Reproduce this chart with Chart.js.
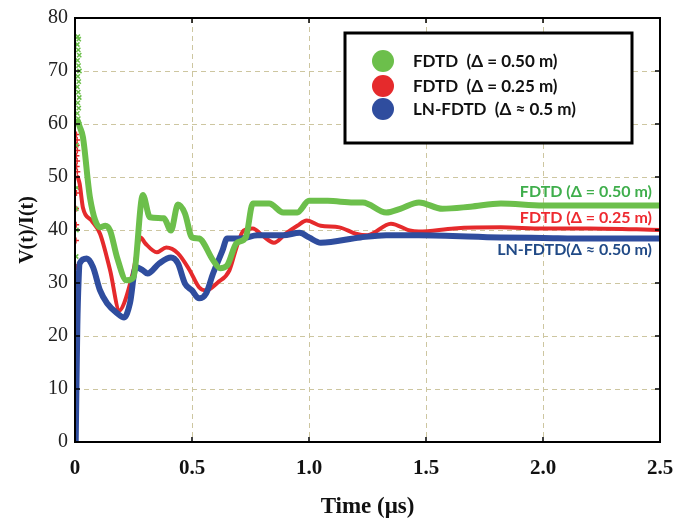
<!DOCTYPE html>
<html>
<head>
<meta charset="utf-8">
<script src="https://cdn.jsdelivr.net/npm/chart.js@4"></script>
<style>
  html, body { margin: 0; padding: 0; background: #fff; }
  #wrap { width: 674px; height: 521px; }
</style>
</head>
<body>
<div id="wrap"><canvas id="c" width="674" height="521"></canvas></div>
<script>
// time axis in microseconds, values are V(t)/I(t)
const xTicks = [0, 0.5, 1.0, 1.5, 2.0, 2.5]
const yTicks = [0, 10, 20, 30, 40, 50, 60, 70, 80]

const timeG = [0.012, 0.02, 0.034, 0.064, 0.107, 0.13, 0.15, 0.18, 0.22, 0.25, 0.29, 0.32, 0.38, 0.41, 0.44, 0.47, 0.50, 0.53, 0.59, 0.62, 0.65, 0.69, 0.73, 0.76, 0.83, 0.89, 0.95, 1.0, 1.08, 1.19, 1.23, 1.33, 1.39, 1.47, 1.57, 1.69, 1.82, 2.0, 2.2, 2.5]
const fdtd050 = [60.5, 59.5, 57.5, 46.1, 40.5, 40.8, 39.9, 34.8, 30.5, 31.1, 46.6, 42.4, 42.2, 39.9, 44.8, 43.1, 38.6, 38.4, 34.3, 32.8, 33.3, 37.5, 38.6, 45, 45, 43.3, 43.3, 45.5, 45.5, 45.2, 45.2, 43.3, 44, 45.2, 44, 44.4, 45, 44.6, 44.6, 44.6]

const timeR = [0.012, 0.02, 0.034, 0.07, 0.107, 0.15, 0.19, 0.21, 0.25, 0.28, 0.30, 0.35, 0.39, 0.44, 0.49, 0.53, 0.56, 0.61, 0.66, 0.69, 0.72, 0.76, 0.80, 0.85, 0.90, 0.95, 0.99, 1.05, 1.13, 1.2, 1.25, 1.35, 1.43, 1.47, 1.62, 1.82, 2.0, 2.2, 2.5]
const fdtd025 = [50, 48.7, 44.2, 41.8, 39.3, 32.4, 24.8, 26.2, 32.4, 38.6, 37.5, 35.8, 36.7, 35.6, 32.4, 29.2, 28.6, 30.1, 32.4, 36.7, 39.9, 40.3, 39, 37.6, 39.3, 40.8, 41.8, 40.8, 40.5, 39.3, 39, 41.2, 39.9, 39.7, 40.3, 40.5, 40.3, 40.3, 40]

const timeB = [0.003, 0.006, 0.01, 0.015, 0.02, 0.05, 0.077, 0.107, 0.137, 0.18, 0.21, 0.235, 0.26, 0.29, 0.31, 0.36, 0.41, 0.44, 0.47, 0.50, 0.53, 0.56, 0.59, 0.63, 0.65, 0.71, 0.78, 0.83, 0.89, 0.96, 1.0, 1.05, 1.22, 1.33, 1.47, 1.82, 2.0, 2.2, 2.5]
const lnfdtd = [0, 10, 22, 30, 33.7, 34.6, 33, 28.6, 26.2, 24.3, 23.5, 26.2, 33, 32.4, 31.8, 33.7, 34.8, 33.7, 29.9, 28.6, 27.1, 28, 31.8, 36.1, 38.4, 38.4, 39, 39, 39, 39.5, 38.6, 37.6, 38.6, 39, 39, 38.6, 38.5, 38.4, 38.4]

// scattered start-up markers hugging the vertical axis
const spikeGt = [0.012, 0.016, 0.01, 0.014, 0.018, 0.011, 0.015, 0.019, 0.012, 0.016, 0.01, 0.014, 0.018, 0.012, 0.016, 0.01, 0.014, 0.018, 0.006, 0.008, 0.005, 0.006, 0.005]
const spikeGv = [76.5, 76, 75, 74, 73, 72, 71, 70, 69, 68, 67, 66, 65, 64, 63, 62, 61, 60, 56, 48, 44, 40, 35]
const spikeRt = [0.006, 0.009, 0.007, 0.01, 0.006, 0.009, 0.007, 0.01, 0.006, 0.004, 0.005, 0.004, 0.005]
const spikeRv = [58, 57, 56, 55, 54, 53, 52, 51, 47, 44, 41, 38, 33]

const legendLabels = ['FDTD  (\u0394 = 0.50 m)', 'FDTD  (\u0394 = 0.25 m)', 'LN-FDTD  (\u0394 \u2248 0.5 m)']
const curveLabels = ['FDTD (\u0394 = 0.50 m)', 'FDTD (\u0394 = 0.25 m)', 'LN-FDTD(\u0394 \u2248 0.50 m)']

const GREEN = '#6cbf4b'
const RED = '#e52a2c'
const BLUE = '#2f4d9e'
const LABEL_COLORS = ['#3fae4c', '#ee2a30', '#214a86']
const GRID = '#cdc6a0'

const pts = (xs, ys) => xs.map((x, i) => ({ x, y: ys[i] }))

function line(data, color, width) {
  return {
    data, showLine: true, borderColor: color, backgroundColor: color, borderWidth: width,
    pointRadius: 0, fill: false, cubicInterpolationMode: 'monotone',
    borderJoinStyle: 'round', borderCapStyle: 'round',
  }
}

// frame, inward ticks, boxed legend and the labels next to the curves
const decorations = {
  id: 'decorations',
  afterDraw(chart) {
    const { ctx, chartArea: a, scales: { x, y } } = chart
    ctx.save()
    ctx.strokeStyle = '#000'
    ctx.lineWidth = 1.5
    xTicks.forEach(v => {
      const px = x.getPixelForValue(v)
      ctx.beginPath()
      ctx.moveTo(px, a.bottom); ctx.lineTo(px, a.bottom - 5)
      ctx.moveTo(px, a.top); ctx.lineTo(px, a.top + 5)
      ctx.stroke()
    })
    yTicks.forEach(v => {
      const py = y.getPixelForValue(v)
      ctx.beginPath()
      ctx.moveTo(a.left, py); ctx.lineTo(a.left + 5, py)
      ctx.moveTo(a.right, py); ctx.lineTo(a.right - 5, py)
      ctx.stroke()
    })
    ctx.lineWidth = 2
    ctx.strokeRect(a.left, a.top, a.right - a.left, a.bottom - a.top)

    // legend box
    ctx.fillStyle = '#fff'
    ctx.fillRect(345, 33, 287, 110)
    ctx.lineWidth = 3
    ctx.strokeRect(345, 33, 287, 110)
    const cols = [GREEN, RED, BLUE]
    const rows = [61, 86, 109]
    ctx.font = 'bold 17px Lato, "Liberation Sans", sans-serif'
    ctx.textBaseline = 'middle'
    ctx.textAlign = 'left'
    rows.forEach((ry, i) => {
      ctx.fillStyle = cols[i]
      ctx.beginPath()
      ctx.arc(383, ry, 11, 0, Math.PI * 2)
      ctx.fill()
      ctx.fillStyle = '#111'
      ctx.fillText(legendLabels[i], 413, ry + 1)
    })

    // curve labels
    ctx.font = 'bold 16px Lato, "Liberation Sans", sans-serif'
    ctx.textAlign = 'right'
    const ly = [192, 218, 250]
    curveLabels.forEach((t, i) => {
      ctx.fillStyle = LABEL_COLORS[i]
      ctx.fillText(t, 652, ly[i])
    })
    ctx.restore()
  },
}

new Chart(document.getElementById('c'), {
  type: 'scatter',
  data: {
    datasets: [
      line(pts(timeG, fdtd050), GREEN, 6),
      line(pts(timeB, lnfdtd), BLUE, 6),
      line(pts(timeR, fdtd025), RED, 4),
      { data: pts(spikeGt, spikeGv), showLine: false, pointStyle: 'crossRot', pointRadius: 3, borderWidth: 1.5, borderColor: GREEN },
      { data: pts(spikeRt, spikeRv), showLine: false, pointStyle: 'cross', pointRadius: 3, borderWidth: 1.5, borderColor: RED },
    ],
  },
  options: {
    responsive: false,
    animation: false,
    layout: { padding: { left: 0, right: 14, top: 18, bottom: 0 } },
    plugins: { legend: { display: false }, tooltip: { enabled: false } },
    scales: {
      x: {
        type: 'linear', min: 0, max: 2.5,
        afterBuildTicks: s => { s.ticks = xTicks.map(v => ({ value: v })) },
        afterFit: s => { s.height = 79; s.paddingLeft = 0; s.paddingRight = 0 },
        grid: { color: GRID, lineWidth: 1, drawTicks: false },
        border: { display: false, dash: [5, 4] },
        ticks: {
          padding: 14, color: '#111', maxRotation: 0,
          font: { family: '"Liberation Serif", "Times New Roman", serif', size: 21, weight: 'bold' },
          callback: v => v === 0 ? '0' : v.toFixed(1),
        },
        title: {
          display: true, text: 'Time (\u03bcs)', color: '#111',
          font: { family: '"Liberation Serif", "Times New Roman", serif', size: 23, weight: 'bold' },
          padding: { top: 0, bottom: 0 },
        },
      },
      y: {
        min: 0, max: 80,
        afterBuildTicks: s => { s.ticks = yTicks.map(v => ({ value: v })) },
        afterFit: s => { s.width = 75; s.paddingTop = 0; s.paddingBottom = 0 },
        grid: { color: GRID, lineWidth: 1, drawTicks: false },
        border: { display: false, dash: [5, 4] },
        ticks: {
          padding: 7, color: '#222',
          font: { family: '"Liberation Serif", "Times New Roman", serif', size: 20 },
        },
        title: {
          display: true, text: 'V(t)/I(t)', color: '#111',
          font: { family: '"Liberation Serif", "Times New Roman", serif', size: 20, weight: 'bold' },
          padding: { top: 16, bottom: 0 },
        },
      },
    },
  },
  plugins: [decorations],
})
</script>
</body>
</html>
